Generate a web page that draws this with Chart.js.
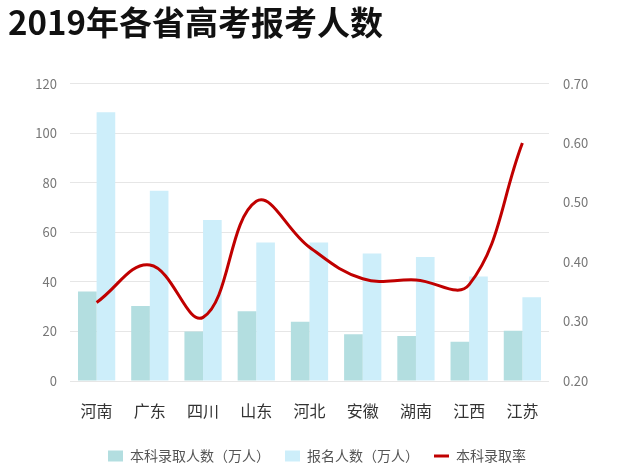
<!DOCTYPE html>
<html>
<head>
<meta charset="utf-8">
<script src="https://cdn.jsdelivr.net/npm/chart.js@4"></script>
<style>
    html, body { margin: 0; padding: 0; background: #fff; }
    #box { width: 626px; height: 473px; }
</style>
</head>
<body>
<div id="box"><canvas id="examChart"></canvas></div>
<script>
const provinces = ['河南', '广东', '四川', '山东', '河北', '安徽', '湖南', '江西', '江苏'];

// 本科录取人数（万人）
const admitted = [36.1, 30.3, 20.0, 28.1, 23.9, 18.9, 18.2, 15.8, 20.3];
// 报名人数（万人）
const applicants = [108.4, 76.8, 65.0, 55.9, 55.9, 51.4, 50.0, 42.2, 33.8];
// 本科录取率
const admitRate = [0.332, 0.395, 0.307, 0.502, 0.425, 0.372, 0.370, 0.362, 0.600];

const leftTicks = [0, 20, 40, 60, 80, 100, 120];
const rightTicks = [0.2, 0.3, 0.4, 0.5, 0.6, 0.7];

const seriesNames = ['本科录取人数（万人）', '报名人数（万人）', '本科录取率'];

const fontName = '"Noto Sans CJK SC", "Noto Sans", sans-serif';

function legendItems(chart) {
    const items = Chart.defaults.plugins.legend.labels.generateLabels(chart);
    items.forEach(function (it) {
        if (it.datasetIndex === 2) {
            it.pointStyle = 'line';
            it.lineWidth = 3;
            it.strokeStyle = '#c00000';
        } else {
            it.pointStyle = 'rect';
            it.lineWidth = 0;
            // a bit more room before the next item, like the original
            it.text = it.text + '\u3000';
        }
    });
    return items;
}

function InitExamChart() {
    const ctx = document.getElementById('examChart').getContext('2d');

    new Chart(ctx, {
        type: 'bar',
        data: {
            labels: provinces,
            datasets: [
                {
                    label: seriesNames[0],
                    data: admitted,
                    backgroundColor: '#b3dee0',
                    yAxisID: 'y',
                    order: 1,
                    categoryPercentage: 0.7,
                    barPercentage: 1.0
                },
                {
                    label: seriesNames[1],
                    data: applicants,
                    backgroundColor: '#cdeefa',
                    yAxisID: 'y',
                    order: 1,
                    categoryPercentage: 0.7,
                    barPercentage: 1.0
                },
                {
                    type: 'line',
                    label: seriesNames[2],
                    data: admitRate,
                    borderColor: '#c00000',
                    backgroundColor: '#c00000',
                    borderWidth: 3,
                    pointRadius: 0,
                    tension: 0.4,
                    yAxisID: 'y1',
                    order: 0
                }
            ]
        },
        options: {
            responsive: true,
            maintainAspectRatio: false,
            animation: false,
            layout: { padding: { left: 8, right: 0, top: 0, bottom: 0 } },
            plugins: {
                tooltip: { enabled: false },
                title: {
                    display: true,
                    text: '2019年各省高考报考人数',
                    align: 'start',
                    color: '#111',
                    font: { family: fontName, size: 33, weight: 'bold' },
                    padding: { top: 3, bottom: 41 }
                },
                legend: {
                    position: 'bottom',
                    labels: {
                        usePointStyle: true,
                        pointStyleWidth: 15,
                        boxHeight: 11,
                        padding: 8,
                        color: '#555',
                        font: { family: fontName, size: 14 },
                        generateLabels: legendItems,
                        sort: (a, b) => a.datasetIndex - b.datasetIndex
                    }
                }
            },
            scales: {
                x: {
                    grid: { display: false, drawTicks: false },
                    border: { display: false },
                    ticks: {
                        color: '#333',
                        padding: 20,
                        font: { family: fontName, size: 16 }
                    },
                    afterFit: function (scale) { scale.height = 60; }
                },
                y: {
                    position: 'left',
                    min: 0,
                    max: 120,
                    afterBuildTicks: function (scale) {
                        scale.ticks = leftTicks.map(v => ({ value: v }));
                    },
                    grid: { color: '#e6e6e6', drawTicks: false },
                    border: { display: false },
                    ticks: {
                        color: '#777',
                        padding: 13,
                        font: { family: fontName, size: 13 }
                    },
                    afterFit: function (scale) { scale.width = 62; }
                },
                y1: {
                    position: 'right',
                    min: 0.2,
                    max: 0.7,
                    afterBuildTicks: function (scale) {
                        scale.ticks = rightTicks.map(v => ({ value: v }));
                    },
                    grid: { display: false, drawTicks: false },
                    border: { display: false },
                    ticks: {
                        color: '#777',
                        padding: 14,
                        font: { family: fontName, size: 13 },
                        callback: function (v) { return Number(v).toFixed(2); }
                    },
                    afterFit: function (scale) { scale.width = 77; }
                }
            }
        }
    });
}

InitExamChart();
</script>
</body>
</html>
